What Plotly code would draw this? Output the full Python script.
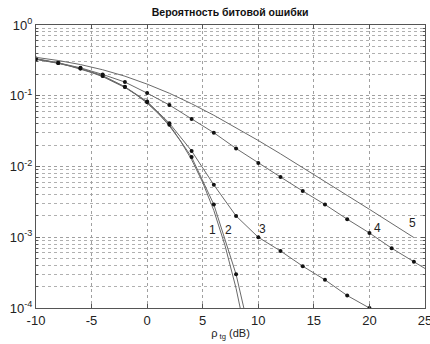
import math
import plotly.graph_objects as go

# ---- data ----
snr_c1 = [-10, -9, -8, -7, -6, -5, -4, -3, -2, -1, 0, 1, 2, 3, 4, 5, 6, 7, 8, 9, 10]
ber_c1 = [0.327, 0.308, 0.287, 0.264, 0.239, 0.213, 0.186, 0.158, 0.131, 0.104, 0.0786,
          0.0563, 0.0375, 0.0229, 0.0125, 5.95e-3, 2.39e-3, 7.7e-4, 1.9e-4, 3.4e-5, 3.9e-6]

snr_c2 = [-10, -8, -6, -4, -2, 0, 2, 4, 6, 8, 10]
ber_c2 = [0.33, 0.29, 0.242, 0.19, 0.133, 0.081, 0.039, 0.0136, 2.9e-3, 3.0e-4, 1.3e-5]

snr_c3 = [-10, -8, -6, -4, -2, 0, 2, 4, 6, 8, 10, 12, 14, 16, 18, 20, 22]
ber_c3 = [0.33, 0.29, 0.243, 0.192, 0.134, 0.083, 0.041, 0.0166, 5.5e-3, 2.0e-3, 1.0e-3,
          6.4e-4, 3.9e-4, 2.5e-4, 1.5e-4, 1.0e-4, 6.3e-5]

snr_c4 = [-10, -8, -6, -4, -2, 0, 2, 4, 6, 8, 10, 12, 14, 16, 18, 20, 22, 24, 26]
ber_c4 = [0.335, 0.292, 0.248, 0.2, 0.156, 0.109, 0.074, 0.047, 0.030, 0.018, 0.0112,
          7.1e-3, 4.5e-3, 2.9e-3, 1.8e-3, 1.15e-3, 7.0e-4, 4.5e-4, 2.9e-4]

snr_c5 = [-10, -8, -6, -4, -2, 0, 2, 4, 6, 8, 10, 12, 14, 16, 18, 20, 22, 24]
ber_c5 = [0.349, 0.315, 0.276, 0.233, 0.189, 0.146, 0.1085, 0.0771, 0.053, 0.0355, 0.0233,
          0.0151, 0.0097, 0.00617, 0.0039, 0.00248, 0.00157, 0.00099]

curve_labels = ["1", "2", "3", "4", "5"]
label_x = [5.9, 7.3, 10.4, 20.7, 23.9]
label_y = [1.25e-3, 1.25e-3, 1.3e-3, 1.35e-3, 1.6e-3]

x_ticks = [-10, -5, 0, 5, 10, 15, 20, 25]
y_ticks = [1e-4, 1e-3, 1e-2, 1e-1, 1]
y_ticktext = ["10<sup>-4</sup>", "10<sup>-3</sup>", "10<sup>-2</sup>", "10<sup>-1</sup>", "10<sup>0</sup>"]
y_minor = [m * 10.0 ** e for e in range(-4, 0) for m in range(2, 10)]

title_text = "Вероятность битовой ошибки"
xlabel_text = "ρ<sub> tg</sub> (dB)"

LINE = "#6a6a6a"
FONT = "Liberation Sans, Arial, sans-serif"

fig = go.Figure()
series = [
    (snr_c1, ber_c1, False),
    (snr_c2, ber_c2, True),
    (snr_c3, ber_c3, True),
    (snr_c4, ber_c4, True),
    (snr_c5, ber_c5, False),
]
for xs, ys, mk in series:
    fig.add_trace(go.Scatter(
        x=xs, y=ys,
        mode="lines+markers" if mk else "lines",
        line=dict(color=LINE, width=1),
        marker=dict(color="#111111", size=4),
        showlegend=False, cliponaxis=True,
    ))

for t, lx, ly in zip(curve_labels, label_x, label_y):
    fig.add_annotation(x=lx, y=math.log10(ly), text=t, showarrow=False,
                       font=dict(family=FONT, size=12, color="#222222"))

fig.update_layout(
    width=430, height=344,
    margin=dict(l=36, r=5, t=25, b=36, autoexpand=False),
    paper_bgcolor="white", plot_bgcolor="white",
    font=dict(family=FONT, size=12, color="#222222"),
    title=dict(text="<b>" + title_text + "</b>", x=0.535, xanchor="center",
               y=0.965, yanchor="middle", font=dict(family=FONT, size=10.5, color="#111111")),
)
fig.update_xaxes(
    range=[-10, 25], tickvals=x_ticks, ticktext=[str(v) for v in x_ticks],
    ticklabeloverflow="allow", automargin=False,
    showline=True, linecolor="#555555", linewidth=1, mirror="ticks",
    ticks="inside", ticklen=4, tickcolor="#555555",
    showgrid=True, gridcolor="#a0a0a0", griddash="dot", gridwidth=1,
    zeroline=False, tickfont=dict(size=13, color="#222222"),
    title=dict(text=xlabel_text, font=dict(size=11, color="#222222"), standoff=2),
)
fig.update_yaxes(
    type="log", range=[-4, 0], tickvals=y_ticks, ticktext=y_ticktext,
    ticklabeloverflow="allow", automargin=False,
    showline=True, linecolor="#555555", linewidth=1, mirror="ticks",
    ticks="inside", ticklen=4, tickcolor="#555555",
    showgrid=True, gridcolor="#a0a0a0", griddash="dot", gridwidth=1,
    zeroline=False, tickfont=dict(size=13, color="#222222"),
    minor=dict(tickmode="array", tickvals=y_minor, showgrid=True, gridcolor="#b0b0b0",
               griddash="dot", gridwidth=1, ticks="inside", ticklen=2, tickcolor="#555555"),
)

fig.write_html("out.html")
